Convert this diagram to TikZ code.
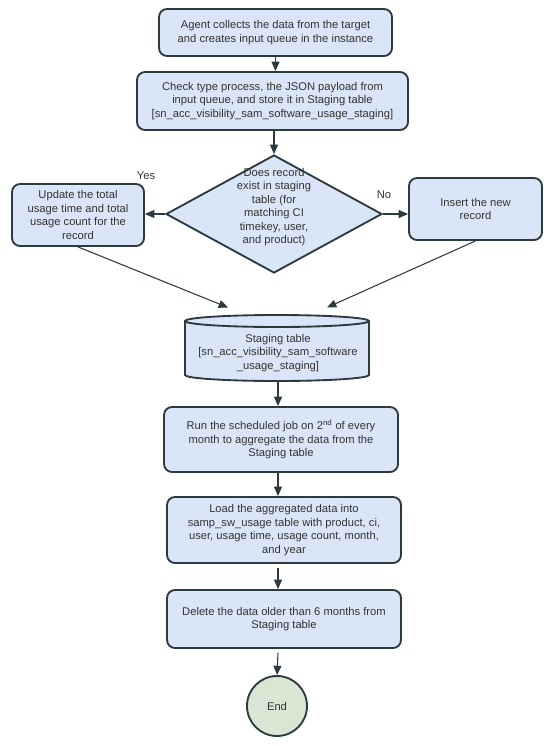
\documentclass[tikz,border=0pt]{standalone}
\usepackage{fontspec}
\setmainfont{Liberation Sans}
\usetikzlibrary{shapes.geometric,arrows.meta}
\definecolor{bfill}{HTML}{DAE6F7}
\definecolor{bline}{HTML}{2B3B40}
\definecolor{tcol}{HTML}{333333}
\definecolor{gfill}{HTML}{D8E6D3}
\begin{document}
\begin{tikzpicture}[x=0.75pt,y=-0.75pt,
  box/.style={draw=bline,fill=bfill,line width=1.4pt,rounded corners=6pt,inner sep=0pt,
    text=tcol,font=\fontsize{8.4}{10.1}\selectfont,align=center},
  lbl/.style={text=tcol,font=\fontsize{8.4}{10.1}\selectfont,align=center,inner sep=0pt},
  conn/.style={draw=bline,line width=0.8pt,-{Triangle[length=7pt,width=6pt]}}]
\useasboundingbox (0,0) rectangle (552,746);

\node[box,minimum width=174.75pt,minimum height=35.25pt] (b1) at (275.5,32.5)
  {Agent collects the data from the target\\and creates input queue in the instance};
\node[box,minimum width=203.25pt,minimum height=43.5pt] (b2) at (272.5,101)
  {Check type process, the JSON payload from\\input queue, and store it in Staging table\\{[}sn\_acc\_visibility\_sam\_software\_usage\_staging{]}};

\node[diamond,draw=bline,fill=bfill,line width=1.4pt,inner sep=0pt,
  minimum width=162pt,minimum height=88.5pt] (dia) at (274,214) {};
\node[lbl] (diat) at (274,207)
  {Does record\\exist in staging\\table (for\\matching CI\\timekey, user,\\and product)};

\node[box,minimum width=99pt,minimum height=46.5pt] (lb) at (78,215)
  {Update the total\\usage time and total\\usage count for the\\record};
\node[box,minimum width=99.75pt,minimum height=46.5pt] (rb) at (475.5,209)
  {Insert the new\\record};

\node[lbl] (yes) at (146,176) {Yes};
\node[lbl] (no) at (384,195) {No};

% cylinder
\draw[draw=bline,fill=bfill,line width=1.4pt]
  (185,321) -- (185,375) arc[start angle=180,end angle=360,x radius=69pt,y radius=4.5pt]
  -- (369,321) arc[start angle=0,end angle=180,x radius=69pt,y radius=4.5pt] -- cycle;
\draw[draw=bline,line width=1.4pt]
  (185,321) arc[start angle=180,end angle=360,x radius=69pt,y radius=4.5pt];
\node[lbl] (cyl) at (278,353)
  {Staging table\\{[}sn\_acc\_visibility\_sam\_software\\\_usage\_staging{]}};
\coordinate (cylb) at (278,381.5);
\coordinate (tipL) at (228,307.5);
\coordinate (tipR) at (327,307.5);

\node[box,minimum width=175.5pt,minimum height=48.75pt] (run) at (281,439.5)
  {Run the scheduled job on 2\textsuperscript{nd} of every\\month to aggregate the data from the\\Staging table};
\node[box,minimum width=175.5pt,minimum height=49.5pt] (load) at (284,530)
  {Load the aggregated data into\\samp\_sw\_usage table with product, ci,\\user, usage time, usage count, month,\\and year};
\node[box,minimum width=175.5pt,minimum height=43.5pt] (del) at (284,619)
  {Delete the data older than 6 months from\\Staging table};
\node[circle,draw=bline,fill=gfill,line width=1.4pt,minimum size=45pt,inner sep=0pt,
  text=tcol,font=\fontsize{8.4}{10.1}\selectfont] (end) at (277,706) {End};

% connectors
\draw[conn] (b1.south) -- (b1.south |- b2.north);
\draw[conn] (dia.north |- b2.south) -- (dia.north);
\draw[conn] (dia.west) -- (dia.west -| lb.east);
\draw[conn] (dia.east) -- (dia.east -| rb.west);
\draw[conn] (lb.south) -- (tipL);
\draw[conn] (rb.south) -- (tipR);
\draw[conn] (cylb) -- (cylb |- run.north);
\draw[conn] (cylb |- run.south) -- (cylb |- load.north);
\draw[conn] ([yshift=-3pt]cylb |- load.south) -- (cylb |- del.north);
\draw[conn] ([yshift=-3pt]cylb |- del.south) -- (end.north);
\end{tikzpicture}
\end{document}
